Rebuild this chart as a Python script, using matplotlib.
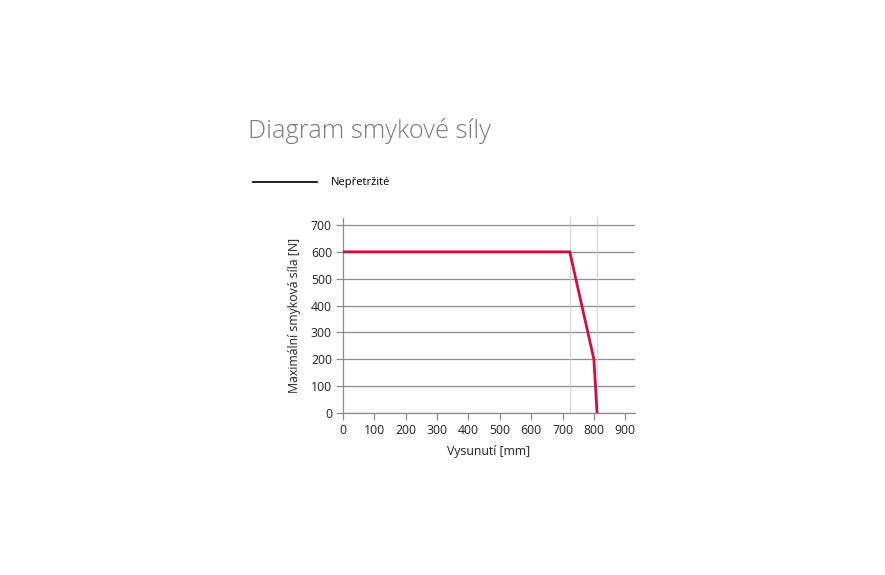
import matplotlib
matplotlib.use("Agg")
import matplotlib.pyplot as plt
from matplotlib.lines import Line2D

# data
extension_mm = [0, 723, 800, 810]
shear_force_n = [600, 600, 200, 0]
marker_lines_mm = [723, 810]
x_ticks = [0, 100, 200, 300, 400, 500, 600, 700, 800, 900]
y_ticks = [0, 100, 200, 300, 400, 500, 600, 700]

plt.rcParams['font.family'] = ['Open Sans', 'DejaVu Sans']

fig = plt.figure(figsize=(8.85, 5.75), dpi=100)
ax = fig.add_axes([343 / 885, 1 - 413 / 575, 292 / 885, 195 / 575])

ax.set_xlim(0, 931)
ax.set_ylim(0, 726)

for y in y_ticks:
    ax.axhline(y, color='#8c8c8c', lw=0.9, zorder=1)
for x in marker_lines_mm:
    ax.axvline(x, color='#d0d0d0', lw=0.7, zorder=1)

ax.plot(extension_mm, shear_force_n, color='#d0103a', lw=2.0, zorder=3,
        solid_joinstyle='miter')

ax.set_xticks(x_ticks)
ax.set_yticks(y_ticks)
ax.tick_params(axis='both', labelsize=8.8, colors='#8c8c8c', labelcolor='#222222',
               length=5, width=0.9, pad=3)
for s in ['top', 'right']:
    ax.spines[s].set_visible(False)
ax.spines['left'].set_color('#8c8c8c')
ax.spines['bottom'].set_color('#8c8c8c')
ax.spines['left'].set_linewidth(0.9)
ax.spines['bottom'].set_linewidth(0.9)

ax.set_xlabel('Vysunutí [mm]', fontsize=8.8, color='#222222', labelpad=6)
ax.set_ylabel('Maximální smyková síla [N]', fontsize=8.8, color='#222222', labelpad=7)

fig.text(248 / 885, 1 - 131 / 575, 'Diagram smykové síly', fontsize=18.4,
         fontweight='light', color='#7a7a7a', va='center', ha='left')

handle = Line2D([], [], color='#111111', lw=1.3)
fig.legend([handle], ['Nepřetržité'], loc='center left',
           bbox_to_anchor=(253 / 885, 1 - 183 / 575), frameon=False,
           fontsize=8, handlelength=5.8, handletextpad=1.2, borderpad=0,
           borderaxespad=0)

fig.savefig('out.png', dpi=100, facecolor='white')
